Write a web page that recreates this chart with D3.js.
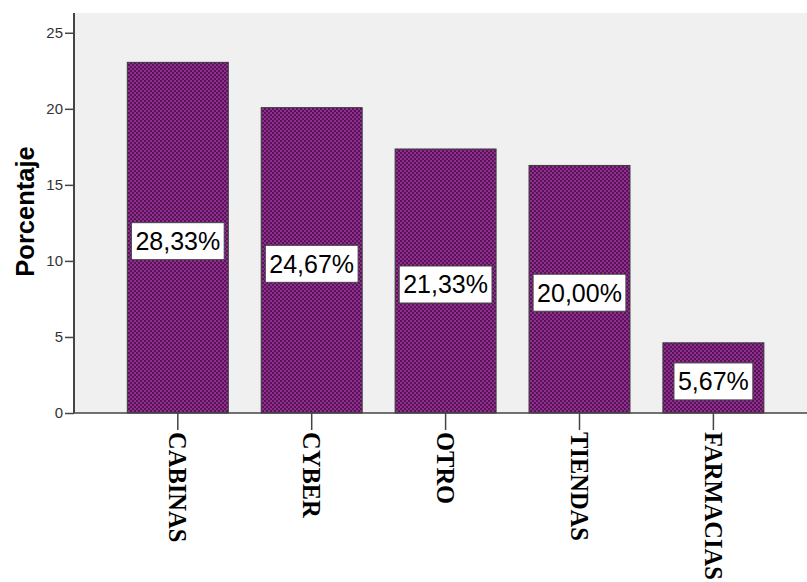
<!DOCTYPE html>
<html>
<head>
<meta charset="utf-8">
<script src="https://cdn.jsdelivr.net/npm/d3@7"></script>
<style>
  html, body { margin: 0; padding: 0; background: #ffffff; }
  svg { display: block; }
</style>
</head>
<body>
<svg id="chart" width="807" height="582"></svg>
<script>
// Categories and their percentages (the value shown in each bar's label)
const categories = ["CABINAS", "CYBER", "OTRO", "TIENDAS", "FARMACIAS"];
const percentages = [28.33, 24.67, 21.33, 20.00, 5.67];
const yTickValues = [0, 5, 10, 15, 20, 25];
const yTitle = "Porcentaje";

// The vertical axis is graduated in its own units; one percent spans this many of them
const axisUnitsPerPercent = 0.8138;
const axisMax = 26.3;

const width = 807, height = 582;
const plot = { left: 74, right: 807, top: 13, bottom: 413 };

const svg = d3.select("#chart");

// Bar fill: purple with a fine dark dot texture
const defs = svg.append("defs");
const pat = defs.append("pattern")
  .attr("id", "dots")
  .attr("width", 4).attr("height", 4)
  .attr("patternUnits", "userSpaceOnUse");
pat.append("rect").attr("width", 4).attr("height", 4).attr("fill", "#902e90");
pat.append("circle").attr("cx", 1).attr("cy", 1).attr("r", 1.05).attr("fill", "#4e104e");
pat.append("circle").attr("cx", 3).attr("cy", 3).attr("r", 1.05).attr("fill", "#4e104e");

// Plot background
svg.append("rect")
  .attr("x", plot.left).attr("y", plot.top)
  .attr("width", plot.right - plot.left)
  .attr("height", plot.bottom - plot.top)
  .attr("fill", "#f0f0f0");

// Scales
const x = d3.scaleBand()
  .domain(categories)
  .range([110.85, 780.35])
  .paddingInner(0.246)
  .paddingOuter(0.123);

const yAxisScale = d3.scaleLinear()
  .domain([0, axisMax])
  .range([plot.bottom, plot.top]);

const yPct = d3.scaleLinear()
  .domain([0, axisMax / axisUnitsPerPercent])
  .range([plot.bottom, plot.top]);

const data = categories.map((c, i) => ({ cat: c, pct: percentages[i] }));

// Bars
svg.append("g")
  .selectAll("rect")
  .data(data)
  .join("rect")
  .attr("x", d => x(d.cat))
  .attr("y", d => yPct(d.pct))
  .attr("width", x.bandwidth())
  .attr("height", d => yPct(0) - yPct(d.pct))
  .attr("fill", "url(#dots)")
  .attr("stroke", "#3a3a3a")
  .attr("stroke-width", 1);

// Y axis
const yAxis = svg.append("g")
  .attr("transform", `translate(${plot.left},0)`)
  .call(d3.axisLeft(yAxisScale).tickValues(yTickValues).tickSize(9).tickPadding(2).tickSizeOuter(0));
yAxis.select(".domain").attr("stroke", "#444").attr("stroke-width", 2)
  .attr("d", `M0,${plot.top}V${plot.bottom}`);
yAxis.selectAll(".tick line").attr("stroke", "#444").attr("stroke-width", 1.5);
yAxis.selectAll(".tick text")
  .attr("fill", "#333")
  .style("font-family", "Arial, 'Liberation Sans', sans-serif")
  .style("font-size", "15px");

// X axis
const xAxis = svg.append("g")
  .attr("transform", `translate(0,${plot.bottom})`)
  .call(d3.axisBottom(x).tickSize(17).tickSizeOuter(0).tickFormat(""));
xAxis.select(".domain").attr("stroke", "#444").attr("stroke-width", 1.5)
  .attr("d", `M${plot.left},0H${plot.right}`);
xAxis.selectAll(".tick line").attr("stroke", "#444").attr("stroke-width", 1.5);

// Rotated category labels
svg.append("g")
  .selectAll("text")
  .data(categories)
  .join("text")
  .attr("transform", d => `translate(${x(d) + x.bandwidth() / 2},${plot.bottom + 19}) rotate(90)`)
  .attr("text-anchor", "start")
  .attr("dominant-baseline", "central")
  .style("font-family", "'Liberation Serif', 'Times New Roman', serif")
  .style("font-weight", "bold")
  .style("font-size", "24.5px")
  .attr("fill", "#000")
  .text(d => d);

// Y axis title
svg.append("text")
  .attr("transform", `translate(25,${(146 + 277) / 2}) rotate(-90)`)
  .attr("text-anchor", "middle")
  .attr("dominant-baseline", "central")
  .style("font-family", "Arial, 'Liberation Sans', sans-serif")
  .style("font-weight", "bold")
  .style("font-size", "25.5px")
  .attr("fill", "#000")
  .text(yTitle);

// Value labels in white boxes at mid-height of each bar
const fmt = v => v.toFixed(2).replace(".", ",") + "%";
const labels = svg.append("g")
  .selectAll("g")
  .data(data)
  .join("g")
  .attr("transform", d => `translate(${x(d.cat) + x.bandwidth() / 2},${(yPct(d.pct) + yPct(0)) / 2 + 3.5})`);

labels.append("text")
  .attr("text-anchor", "middle")
  .attr("dominant-baseline", "central")
  .style("font-family", "Arial, 'Liberation Sans', sans-serif")
  .style("font-size", "25px")
  .attr("fill", "#000")
  .text(d => fmt(d.pct));

labels.each(function () {
  const g = d3.select(this);
  const t = g.select("text");
  const w = t.node().getComputedTextLength();
  g.insert("rect", "text")
    .attr("x", -w / 2 - 4)
    .attr("y", -18.5)
    .attr("width", w + 8)
    .attr("height", 37)
    .attr("fill", "#ffffff")
    .attr("stroke", "#444")
    .attr("stroke-width", 1);
});
</script>
</body>
</html>
